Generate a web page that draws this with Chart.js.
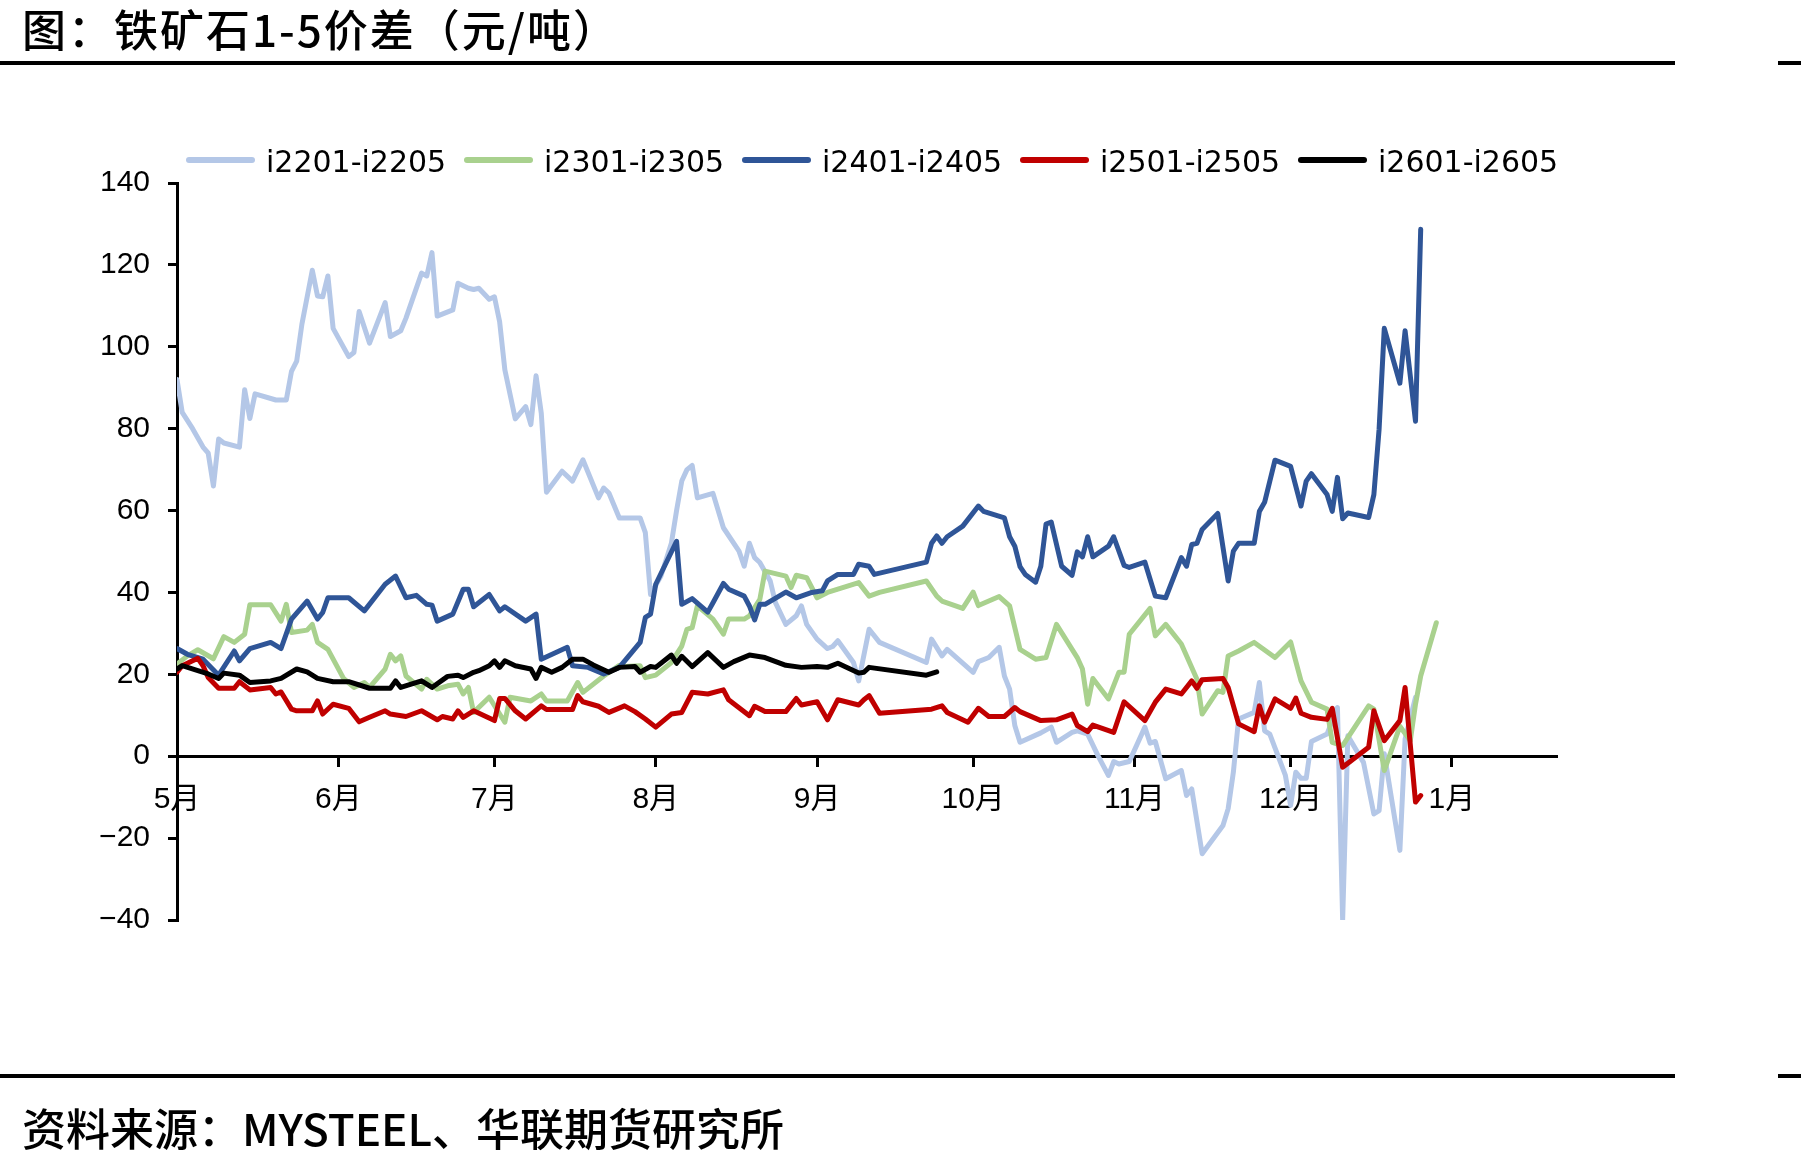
<!DOCTYPE html>
<html>
<head>
<meta charset="utf-8">
<script src="https://cdn.jsdelivr.net/npm/chart.js@4.4.1/dist/chart.umd.min.js"></script>
<style>
  html, body { margin: 0; padding: 0; background: #fff; }
  #wrap { position: relative; width: 1801px; height: 1165px; overflow: hidden; background: #fff; }
  #c { position: absolute; left: 0; top: 0; }
  .txt { position: absolute; font-family: 'Noto Sans CJK SC', sans-serif; font-weight: 500; font-size: 44px; line-height: 1; color: #000; white-space: nowrap; }
  .rule { position: absolute; height: 4px; background: #000; }
</style>
</head>
<body>
<div id="wrap">
  <canvas id="c" width="1801" height="1165"></canvas>
  <div class="txt" style="left:22px; top:6px; letter-spacing:2px;">图：铁矿石1-5价差（元/吨）</div>
  <div class="rule" style="left:0; top:61px; width:1675px;"></div>
  <div class="rule" style="left:1778px; top:61px; width:23px;"></div>
  <div class="rule" style="left:0; top:1074px; width:1675px;"></div>
  <div class="rule" style="left:1778px; top:1074px; width:23px;"></div>
  <div class="txt" style="left:22px; top:1105px;">资料来源：MYSTEEL、华联期货研究所</div>
</div>
<script>
// ---- axis categories ----
const monthLabels = ['5月', '6月', '7月', '8月', '9月', '10月', '11月', '12月', '1月'];
const monthLengths = [31, 30, 31, 31, 30, 31, 30, 31]; // May .. Dec
const yTicks = [-40, -20, 0, 20, 40, 60, 80, 100, 120, 140];

// ---- series: trading day as days since 1 May, value in 元/吨 ----
const i2201Days = [0,1,3,5,6,7,8,9,12,13,14,15,19,21,22,23,24,26,27,28,29,30,33,34,35,37,40,41,43,44,47,48,49,50,53,54,56,57,58,60,61,62,63,65,67,68,69,70,71,74,76,78,81,82,83,85,89,90,91,93,95,96,97,98,99,100,103,105,108,109,110,111,112,114,115,117,119,120,121,123,125,126,127,130,131,133,135,144,145,147,148,153,154,156,158,159,160,161,162,166,168,169,172,173,175,177,179,180,181,183,186,187,188,190,193,194,195,197,201,202,203,204,207,208,209,210,213,214,215,216,217,218,221,223,224,225,228,230,231,232,235,236,238];
const i2201Vals = [92,84,80,75.5,74,66,77.5,76.5,75.5,89.5,82.5,88.5,87,87,94,96.5,105.5,118.7,112.4,112.2,117.3,104.5,97.6,98.6,108.6,100.9,110.8,102.5,103.9,107,118,117.3,123,107.5,109,115.5,114.3,114,114.3,111.6,112.2,106.1,94.4,82.4,85.4,81,92.9,83.8,64.5,69.6,67.2,72.4,63.1,65.5,64.3,58.2,58.2,54.6,39.5,44,52,60,67.2,70,71,63.1,64.2,55.8,50.1,46.4,52,48.5,47.3,42.8,37.5,32.2,34.3,36.7,32.2,28.6,26.3,26.8,28.2,22.9,18.4,31,27.8,22.9,28.6,24.5,26.1,20.5,23.1,24.1,26.6,19.6,16.4,7.5,3.4,5.7,7.1,3.4,5.8,6.2,5.4,0.1,-4.7,-1.3,-1.9,-1.3,7.1,3.2,3.6,-5.5,-3.5,-9.6,-8,-23.8,-16.9,-12.8,-3.9,9.1,10.7,18,6.2,5.4,-4.7,-12,-3.9,-5.4,-5.4,3.6,5.4,11.9,-40,5,-1.5,-14.1,-13.3,0.6,-23,4.2,14.4];

const i2301Days = [0,2,4,7,9,11,13,14,18,20,21,22,25,26,27,29,32,34,36,37,40,41,42,43,44,47,48,50,52,54,55,56,57,60,63,64,68,70,71,75,77,78,82,85,86,89,90,92,95,97,98,99,100,103,105,106,109,110,112,113,117,118,119,121,123,125,131,133,135,144,146,147,151,153,154,158,160,162,165,167,169,173,174,175,176,179,181,182,183,187,188,190,193,196,197,200,201,202,204,207,211,214,216,218,221,222,224,229,230,232,235,237,238,239,242];
const i2301Vals = [22.5,24.5,26,23.8,29.2,27.8,29.8,37,37,33,37.1,30.2,30.8,32.2,27.8,26.1,19,16.8,18,16.8,21.3,24.9,23.3,24.5,19.6,16.4,18.8,16.4,17.2,17.6,15.2,16.8,10.7,14.4,8.3,14.4,13.5,15.2,13.5,13.5,18,15.6,19.6,22.2,21.9,22.1,19.2,19.8,22.9,26.9,31,31.4,36.7,33.5,29.8,33.5,33.5,34.3,38.3,45.2,44,41.2,44.2,43.6,38.7,40,42.4,39.1,40,42.8,39.1,37.9,36.1,40.1,36.8,39,36.7,26.1,23.7,24.1,32.2,24.1,21.3,12.7,19,14,20.5,20.5,29.8,36.1,29.4,32.2,27.4,18.8,10.3,16,15.6,24.5,25.7,27.8,24.1,27.9,18.4,13.2,11.5,3.4,2.6,12.3,11.5,-3.5,7.3,3.8,12.7,19.6,32.6];

const i2401Days = [0,2,5,8,11,12,14,18,20,22,25,27,28,29,33,36,40,42,44,46,48,49,50,53,55,56,57,60,62,63,67,69,70,75,76,79,82,85,89,90,91,92,96,97,99,102,103,105,106,109,110,111,112,113,117,119,122,124,125,127,130,131,133,134,144,145,146,147,148,151,154,155,159,160,161,162,163,165,166,167,168,170,172,173,174,175,176,179,180,182,183,186,188,190,193,194,195,196,197,200,202,203,204,207,208,209,211,214,216,217,218,221,222,223,224,225,229,230,231,232,235,236,238,239];
const i2401Vals = [26.3,24.9,23.7,19.8,25.7,23.3,26.3,27.8,26.3,33.5,37.9,33.5,35.1,38.7,38.7,35.5,42,44,38.7,39.3,37.1,36.9,33,34.7,40.8,40.8,36.5,39.5,35.5,36.5,33,34.7,23.7,26.6,22.1,21.7,20.1,21.7,27.8,33.9,34.7,42,52.5,37.1,38.5,35.2,37.5,42.2,40.8,39.1,36.7,33.3,37.1,37.1,40.1,38.7,40,40.4,42.8,44.4,44.4,46.9,46.4,44.4,47.4,52,53.8,52,53.6,56.2,61.1,59.8,58.2,53.6,51.3,46.3,44.4,42.5,46.4,56.7,57.2,46.4,44.2,49.9,48.7,53.6,48.7,51.3,53.6,46.6,46.1,47.4,39.1,38.7,48.5,46.4,51.7,52,55.4,59.3,42.8,50.1,52,52,59.8,62,72.3,70.8,61.1,67.2,69,63.9,59.8,68.1,58,59.4,58.3,63.9,79.8,104.5,91.1,103.9,81.8,128.7];

const i2501Days = [0,1,3,4,5,6,8,11,12,14,18,19,20,22,23,26,27,28,30,33,35,37,40,41,44,47,50,51,53,54,55,57,61,62,63,65,67,70,71,76,77,78,81,83,86,88,90,92,95,97,99,102,105,106,110,111,113,117,119,120,123,125,127,131,132,133,135,145,147,148,152,154,156,159,161,162,166,169,172,173,175,176,180,182,186,188,190,193,195,196,197,201,202,204,207,208,209,211,214,215,216,218,221,222,224,229,230,232,235,236,238,239];
const i2501Vals = [20.5,22.1,23.3,23.9,22.1,19.2,16.6,16.6,18.2,16.2,16.8,15.2,15.7,11.5,11.1,11.1,13.5,10.3,12.7,11.7,8.4,9.5,11.1,10.3,9.7,11.1,8.9,9.7,9.1,11.1,9.5,11.1,8.7,14.1,14.1,11.1,9.1,12.3,11.4,11.4,14.8,13.3,12.2,10.7,12.3,10.9,9.1,7.1,10.3,10.7,15.6,15.2,16.2,13.8,9.9,12.2,10.9,10.9,14.1,12.5,13.3,8.9,13.8,12.5,13.8,14.8,10.5,11.5,12.3,10.7,8.3,11.7,9.7,9.7,11.9,10.9,8.7,8.9,10.3,7.5,6,7.6,5.8,13.3,8.7,13.2,16.4,15.2,18.4,16.6,18.7,19,16.8,7.9,6,12.3,8.3,14,11.7,14.2,10.5,9.5,9,11.7,-2.7,2.2,11.1,3.8,8.7,16.8,-11.2,-9.6];

const i2601Days = [0,1,4,6,8,9,12,14,18,20,23,25,27,30,33,37,41,42,43,47,49,52,54,55,57,58,60,61,62,63,65,68,69,70,72,74,76,78,80,83,85,88,89,91,92,95,96,97,99,102,105,107,110,113,117,120,123,125,127,131,132,133,144,146];
const i2601Vals = [21.3,22.1,20.9,20.1,19,20.3,19.8,18,18.4,19,21.3,20.6,19,18.2,18.2,16.6,16.6,18.4,16.8,18.4,16.8,19.5,19.8,19.2,20.5,20.9,22.1,23.3,21.7,23.3,22.1,21.3,19,21.7,20.5,21.7,23.7,23.7,22.3,20.5,21.7,21.9,20.5,21.9,21.7,24.7,22.7,24.4,21.9,25.3,21.7,23.1,24.7,24.1,22.2,21.7,21.9,21.7,22.7,20.3,20.5,21.7,19.8,20.6];

// ---- helpers ----
const monthStartDays = monthLabels.map((_, i) => monthLengths.slice(0, i).reduce((a, b) => a + b, 0));
const toPoints = (days, vals) => days.map((d, i) => ({ x: d, y: vals[i] }));
const fmtY = v => (v < 0 ? '\u2212' + Math.abs(v) : String(v));

const seriesDefs = [
  { label: 'i2201-i2205', days: i2201Days, vals: i2201Vals, color: '#B4C7E7', order: 5 },
  { label: 'i2301-i2305', days: i2301Days, vals: i2301Vals, color: '#A9D18E', order: 4 },
  { label: 'i2401-i2405', days: i2401Days, vals: i2401Vals, color: '#2F5597', order: 3 },
  { label: 'i2501-i2505', days: i2501Days, vals: i2501Vals, color: '#C00000', order: 2 },
  { label: 'i2601-i2605', days: i2601Days, vals: i2601Vals, color: '#000000', order: 1 }
];

const lineLegend = {
  id: 'lineLegend',
  afterDraw(chart) {
    const ctx = chart.ctx;
    ctx.save();
    ctx.font = "30px 'DejaVu Sans', 'Liberation Sans', sans-serif";
    ctx.textBaseline = 'alphabetic';
    ctx.textAlign = 'left';
    chart.data.datasets.forEach((ds, i) => {
      const x = 189 + i * 278;
      ctx.strokeStyle = ds.borderColor;
      ctx.lineWidth = 6;
      ctx.lineCap = 'round';
      ctx.beginPath();
      ctx.moveTo(x, 160);
      ctx.lineTo(x + 63, 160);
      ctx.stroke();
      ctx.fillStyle = '#000';
      ctx.fillText(ds.label, x + 77, 172);
    });
    ctx.restore();
  }
};

Chart.defaults.color = '#000';
const tickFont = { family: "'Liberation Sans', 'Noto Sans CJK SC', sans-serif", size: 30 };

new Chart(document.getElementById('c'), {
  type: 'line',
  data: {
    datasets: seriesDefs.map(s => ({
      label: s.label,
      data: toPoints(s.days, s.vals),
      borderColor: s.color,
      backgroundColor: s.color,
      borderWidth: 5,
      borderJoinStyle: 'round',
      borderCapStyle: 'round',
      pointRadius: 0,
      pointHoverRadius: 0,
      tension: 0,
      fill: false,
      order: s.order
    }))
  },
  options: {
    responsive: false,
    devicePixelRatio: 1,
    animation: false,
    events: [],
    layout: { padding: { top: 183, left: 0, right: 245, bottom: 245 } },
    plugins: { legend: { display: false }, tooltip: { enabled: false }, title: { display: false } },
    scales: {
      x: {
        type: 'linear',
        position: { y: 0 },
        min: 0,
        max: 265,
        afterBuildTicks: scale => { scale.ticks = monthStartDays.map(v => ({ value: v })); },
        ticks: {
          autoSkip: false,
          maxRotation: 0,
          minRotation: 0,
          padding: 17,
          font: tickFont,
          color: '#000',
          callback: v => { const i = monthStartDays.indexOf(v); return i >= 0 ? monthLabels[i] : ''; }
        },
        grid: { drawOnChartArea: false, drawTicks: true, tickLength: 9, color: '#000', lineWidth: 3 },
        border: { display: true, color: '#000', width: 3 }
      },
      y: {
        type: 'linear',
        position: 'left',
        min: yTicks[0],
        max: yTicks[yTicks.length - 1],
        afterFit: scale => { scale.width = 177; },
        afterBuildTicks: scale => { scale.ticks = yTicks.map(v => ({ value: v })); },
        ticks: { padding: 18, font: tickFont, color: '#000', callback: v => fmtY(v) },
        grid: { drawOnChartArea: false, drawTicks: true, tickLength: 9, color: '#000', lineWidth: 3 },
        border: { display: true, color: '#000', width: 3 }
      }
    }
  },
  plugins: [lineLegend]
});
</script>
</body>
</html>
